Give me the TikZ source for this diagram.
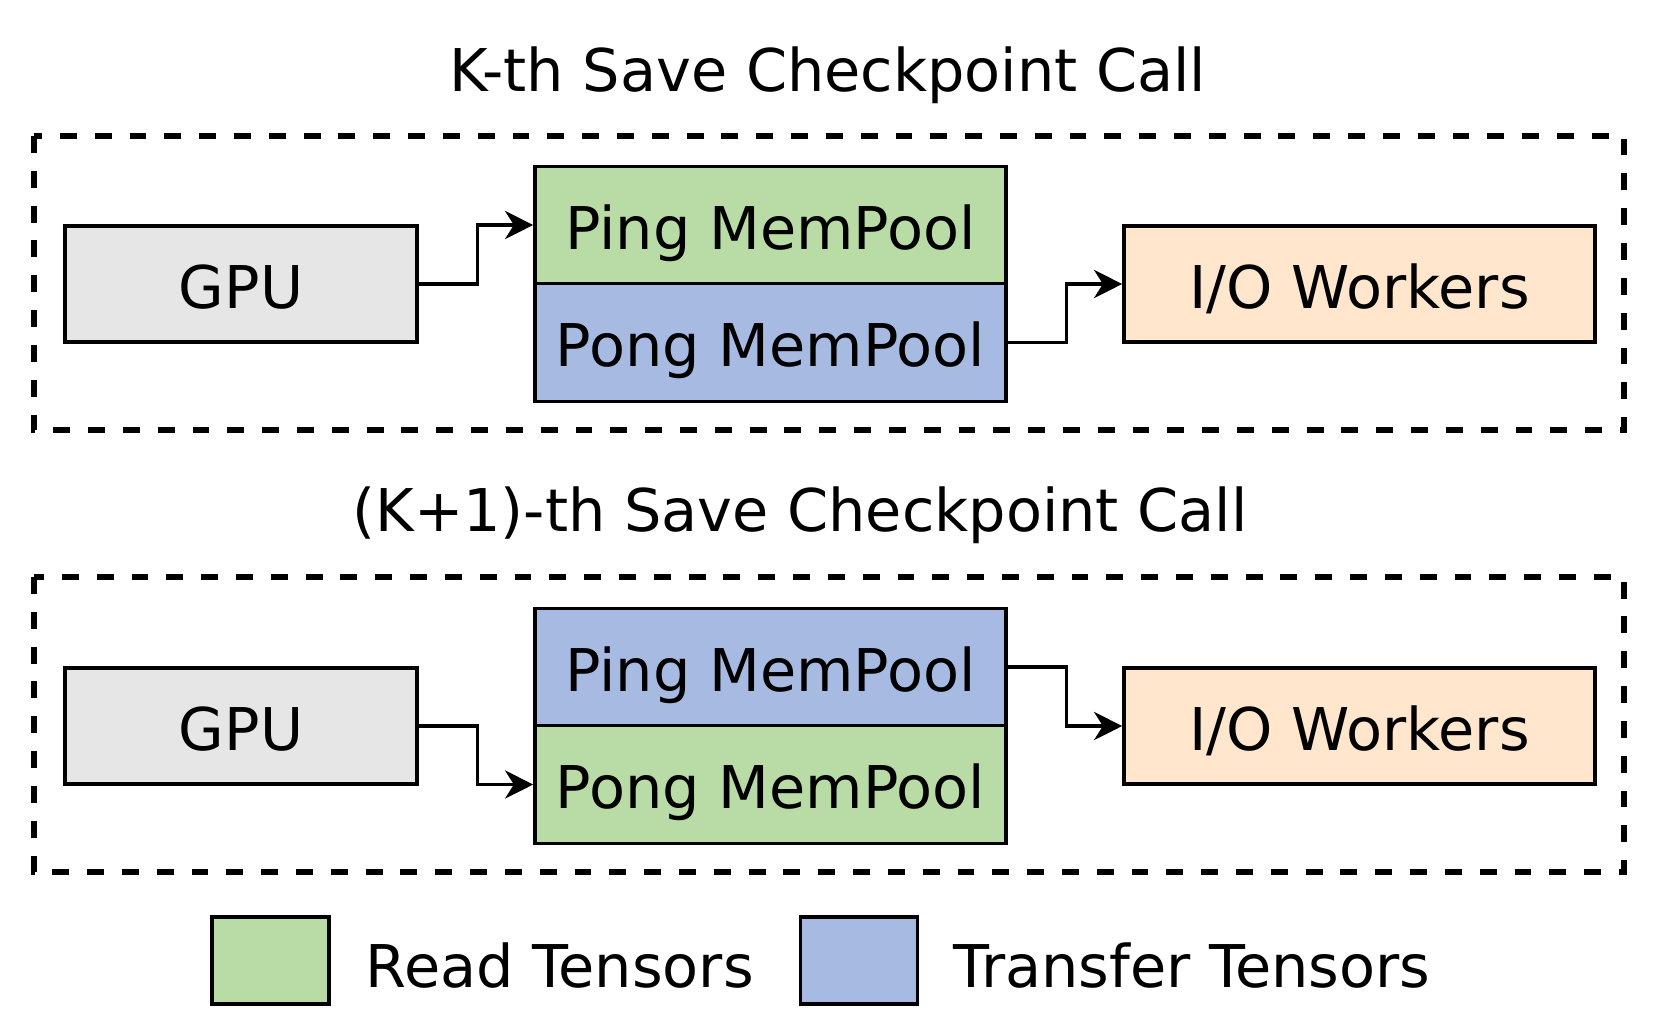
\documentclass[tikz,border=0pt]{standalone}
\usepackage{fontspec}
\setmainfont{DejaVu Sans}
\usetikzlibrary{arrows.meta}
\definecolor{gpugray}{HTML}{E6E6E6}
\definecolor{readgreen}{HTML}{B9DBA5}
\definecolor{xferblue}{HTML}{A6BAE2}
\definecolor{ioorange}{HTML}{FFE6CC}

\begin{document}
\begin{tikzpicture}[x=0.01cm, y=-0.01cm, font=\fontsize{16.75}{20}\selectfont,
    block/.style={draw, line width=0.95pt, text height=1.38em, text depth=0pt, inner sep=0pt},
    gpubox/.style={block, fill=gpugray, minimum width=3.52cm, minimum height=1.16cm},
    poolbox/.style={block, minimum width=4.71cm, minimum height=1.175cm},
    iobox/.style={block, fill=ioorange, minimum width=4.71cm, minimum height=1.16cm},
    keybox/.style={draw, line width=0.95pt, minimum width=1.17cm, minimum height=0.87cm},
    stage/.style={draw, line width=1.7pt, dash pattern=on 4.8pt off 5.1pt},
    flow/.style={line width=0.95pt, -{Stealth[length=8pt, width=8pt, inset=2.5pt]}}]
    \useasboundingbox (0,0) rectangle (1661,1030);

    \node[anchor=base] (title1) at (828,91) {K-th Save Checkpoint Call};
    \draw[stage] (34,136) rectangle (1624,430);
    \node[gpubox] (gpu1) at (241,284) {GPU};
    \node[poolbox, fill=readgreen] (ping1) at (770.5,225) {Ping MemPool};
    \node[poolbox, fill=xferblue] (pong1) at (770.5,342.5) {Pong MemPool};
    \node[iobox] (io1) at (1359.5,284) {I/O Workers};
    \draw[flow] (gpu1.east) -- ++(59,0) |- (ping1.west);
    \draw[flow] (pong1.east) -- ++(59,0) |- (io1.west);

    \node[anchor=base] (title2) at (800,531) {(K+1)-th Save Checkpoint Call};
    \draw[stage] (34,577) rectangle (1624,872);
    \node[gpubox] (gpu2) at (241,726) {GPU};
    \node[poolbox, fill=xferblue] (ping2) at (770.5,667) {Ping MemPool};
    \node[poolbox, fill=readgreen] (pong2) at (770.5,784.5) {Pong MemPool};
    \node[iobox] (io2) at (1359.5,726) {I/O Workers};
    \draw[flow] (gpu2.east) -- ++(59,0) |- (pong2.west);
    \draw[flow] (ping2.east) -- ++(59,0) |- (io2.west);

    \node[keybox, fill=readgreen] (keyread) at (270.5,960.5) {};
    \node[anchor=base west, inner sep=0pt] (labread) at (365,987) {Read Tensors};
    \node[keybox, fill=xferblue] (keyxfer) at (859,960.5) {};
    \node[anchor=base west, inner sep=0pt] (labxfer) at (953,987) {Transfer Tensors};
\end{tikzpicture}
\end{document}
